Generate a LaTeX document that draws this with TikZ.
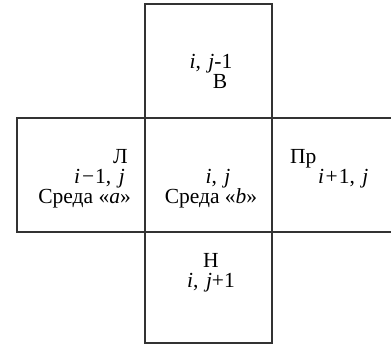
\documentclass[tikz,border=0pt]{standalone}
\usepackage{fontspec}
\setmainfont{Liberation Serif}
\newcommand{\cm}{,\hspace{0.35em}}
\begin{document}
\begin{tikzpicture}[x=1pt,y=-1pt,
  cell/.style={draw=black!80,line width=1.1pt},
  lbl/.style={inner sep=0pt,font=\fontsize{21.5}{24}\selectfont}]
\useasboundingbox (0,0) rectangle (391,347);
% cells
\draw[cell] (145,4) rectangle (272,118);
\draw[cell] (145,118) rectangle (272,232);
\draw[cell] (145,232) rectangle (272,343);
\draw[cell] (17,118) rectangle (145,232);
\draw[cell] (391,118) -- (272,118) (272,232) -- (391,232);
% top
\node[lbl,anchor=base] (t1) at (211,69) {\textit{i}\cm\textit{j}-1};
\node[lbl,anchor=base] (t2) at (220,89) {В};
% left
\node[lbl,anchor=base east] (l1) at (128,164) {Л};
\node[lbl,anchor=base east] (l2) at (125,184) {\textit{i}\kern2pt−\kern1pt1\cm\textit{j}};
\node[lbl,anchor=base east] (l3) at (131,204) {Среда «\textit{a}»};
% center
\node[lbl,anchor=base] (m1) at (218,184) {\textit{i}\cm\textit{j}};
\node[lbl,anchor=base] (m2) at (211,204) {Среда «\textit{b}»};
% right
\node[lbl,anchor=base west] (r1) at (290,164) {Пр};
\node[lbl,anchor=base west] (r2) at (318,184) {\textit{i}\kern1.5pt+\kern1pt1\cm\textit{j}};
% bottom
\node[lbl,anchor=base] (b1) at (211,268) {Н};
\node[lbl,anchor=base] (b2) at (211,288) {\textit{i}\cm\textit{j}+1};
\end{tikzpicture}
\end{document}
